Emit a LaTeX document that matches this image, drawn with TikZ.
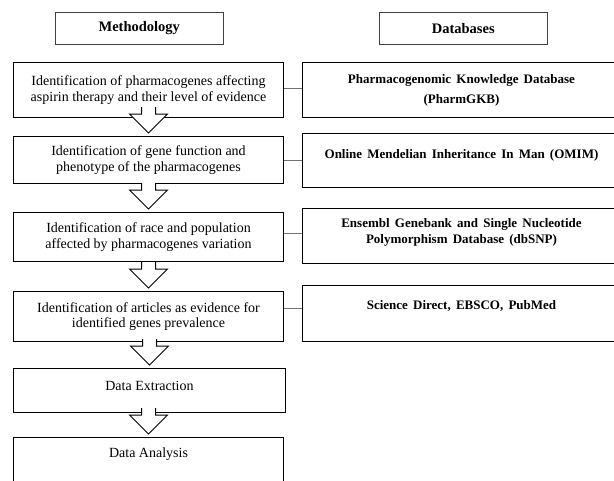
\documentclass[tikz,border=0pt]{standalone}
\usepackage{fontspec}
\setmainfont{Liberation Serif}
\usetikzlibrary{calc}

\newcommand{\dbfont}[1]{\fontsize{13}{#1}\selectfont\bfseries\spaceskip 0.4em plus 0.1em\relax}

\tikzset{
  headbox/.style={draw=black!75, line width=0.6pt, minimum width=168pt, minimum height=32pt,
    anchor=north west, inner sep=0pt, font=\fontsize{14.5}{16}\selectfont\bfseries},
  stepbox/.style={draw, line width=1pt, minimum width=270pt, anchor=north west, inner sep=0pt,
    align=center, font=\fontsize{14}{15.5}\selectfont},
  dbbox/.style={draw, line width=1pt, minimum width=318pt, anchor=north west, inner sep=0pt,
    align=center, font=\dbfont{16}},
  link/.style={draw=black!55, line width=0.7pt},
  blockarrow/.style={draw, line width=1pt, fill=white}
}

% hollow arrow pointing down onto the next step box
\newcommand{\flowarrow}[2]{%
  \draw[blockarrow] ($(#2.north)+(-7,-29)$) -- ($(#2.north)+(-7,-22)$) -- ($(#2.north)+(-19,-22)$)
    -- ($(#2.north)+(0,-3)$) -- ($(#2.north)+(19,-22)$) -- ($(#2.north)+(7,-22)$) -- ($(#2.north)+(7,-29)$);}

\begin{document}
\begin{tikzpicture}[x=1pt,y=-1pt]

        \useasboundingbox (0,0) rectangle (614,480);
        \clip (0,0) rectangle (614,480);

        % column headings
        \node[headbox] (meth) at (55,12) {Methodology};
        \node[headbox] (dbs) at (379,12) {Databases};

        % methodology steps
        \node[stepbox, minimum height=55pt] (s1) at (13,62)
          {Identification of pharmacogenes affecting\\aspirin therapy and their level of evidence};
        \node[stepbox, minimum height=47pt] (s2) at (13,136)
          {Identification of gene function and\\phenotype of the pharmacogenes};
        \node[stepbox, minimum height=49pt] (s3) at (13,212)
          {Identification of race and population\\affected by pharmacogenes variation};
        \node[stepbox, minimum height=50pt] (s4) at (13,291)
          {Identification of articles as evidence for\\identified genes prevalence};
        \node[stepbox, minimum width=272pt, minimum height=44pt, text depth=10pt] (s5) at (13,368)
          {Data Extraction};
        \node[stepbox, minimum height=47pt, text depth=16pt] (s6) at (13,437)
          {Data Analysis};

        % databases
        \node[dbbox, minimum height=55pt, font=\dbfont{20}] (d1) at (302,62)
          {Pharmacogenomic Knowledge Database\\(PharmGKB)};
        \node[dbbox, minimum height=54pt, text depth=13pt] (d2) at (302,133)
          {Online Mendelian Inheritance In Man (OMIM)};
        \node[dbbox, minimum height=55pt, text depth=11pt] (d3) at (302,208)
          {Ensembl Genebank and Single Nucleotide\\Polymorphism Database (dbSNP)};
        \node[dbbox, minimum height=56pt, text depth=17pt] (d4) at (302,285)
          {Science Direct, EBSCO, PubMed};

        % links between steps and databases
        \draw[link] ([yshift=1.5pt]s1.east) -- ([yshift=1.5pt]s1.east -| d1.west);
        \draw[link] (s2.east) -- (s2.east -| d2.west);
        \draw[link] ([yshift=3.5pt]s3.east) -- ([yshift=3.5pt]s3.east -| d3.west);
        \draw[link] ([yshift=8pt]s4.east) -- ([yshift=8pt]s4.east -| d4.west);

        % arrows between steps
        \flowarrow{s1}{s2}
        \flowarrow{s2}{s3}
        \flowarrow{s3}{s4}
        \flowarrow{s4}{s5}
        \flowarrow{s5}{s6}

\end{tikzpicture}
\end{document}
